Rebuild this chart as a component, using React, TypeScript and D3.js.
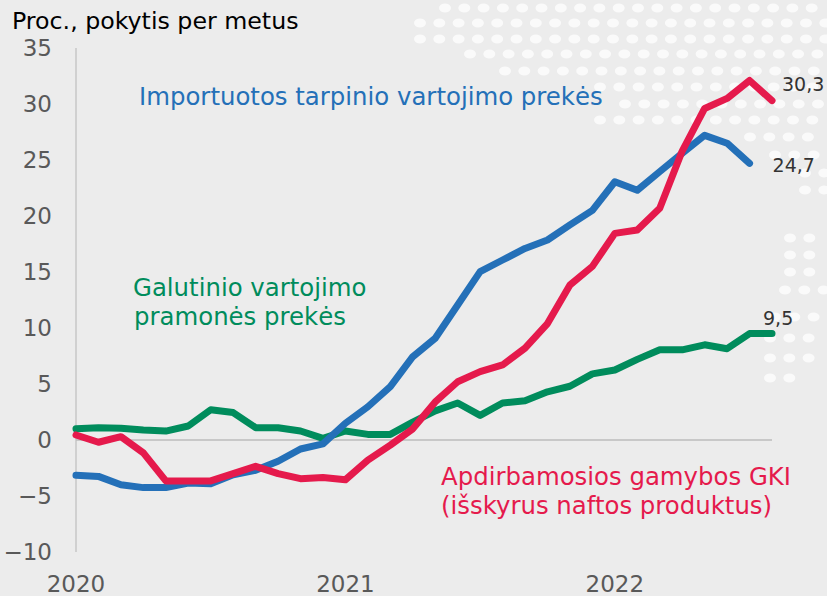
import React from "react";
import * as d3 from "d3";

const W = 827;
const H = 596;

// monthly observations, Jan 2020 .. Aug 2022
const months = d3
  .timeMonth.range(new Date(2020, 0, 1), new Date(2022, 8, 1))
  .map(d3.timeFormat("%Y-%m"));
const yearTicks = ["2020-01", "2021-01", "2022-01"];
const yTicks = [-10, -5, 0, 5, 10, 15, 20, 25, 30, 35];

// Importuotos tarpinio vartojimo prekės (ends Jul 2022)
const importGoods = [
  -3.15, -3.25, -4.0, -4.25, -4.25, -3.85, -3.9, -3.1, -2.7, -1.9, -0.8, -0.35,
  1.5, 2.97, 4.76, 7.44, 9.08, 12.05, 15.03, 16.07, 17.1, 17.86, 19.2, 20.5,
  23.06, 22.3, 23.96, 25.6, 27.2, 26.5, 24.7,
];
// Apdirbamosios gamybos GKI (išskyrus naftos produktus)
const manufacturingPpi = [
  0.45, -0.2, 0.3, -1.15, -3.65, -3.65, -3.65, -3.0, -2.35, -3.0, -3.45, -3.35,
  -3.55, -1.8, -0.45, 1.0, 3.4, 5.2, 6.1, 6.7, 8.2, 10.4, 13.84, 15.5, 18.45,
  18.75, 20.7, 25.8, 29.6, 30.5, 32.1, 30.3,
];
// Galutinio vartojimo pramonės prekės
const finalGoods = [
  1.0, 1.1, 1.05, 0.9, 0.8, 1.25, 2.7, 2.45, 1.1, 1.1, 0.8, 0.15, 0.8, 0.5,
  0.5, 1.6, 2.6, 3.3, 2.2, 3.3, 3.5, 4.3, 4.8, 5.9, 6.25, 7.2, 8.05, 8.05, 8.5,
  8.15, 9.5, 9.5,
];

// decorative dotted map, rows: [y, xStart, xEnd]
const dotRows = [
  [8, 445, 827], [23, 420, 827], [39, 420, 827], [54, 470, 827],
  [71, 505, 827], [87, 600, 827], [104, 625, 827], [120, 600, 827],
  [137, 750, 827], [155, 775, 827], [173, 805, 827], [190, 805, 827],
  [238, 790, 827], [255, 790, 827], [272, 790, 827], [290, 785, 827],
  [317, 775, 827], [338, 770, 827], [358, 770, 827], [378, 770, 800],
];

const FONT = "'DejaVu Sans', Verdana, sans-serif";
const fmt = (v: number) => d3.format(".1f")(v).replace(".", ",");

export default function App() {
  const x = d3.scalePoint<string>().domain(months).range([76, 772]);
  const y = d3.scaleLinear().domain([-10, 35]).range([552, 48]);

  const line = d3
    .line<number>()
    .x((_, i) => x(months[i]) as number)
    .y((d) => y(d));

  const series = [
    { key: "final", values: finalGoods, color: "#008c5c", dx: -9, dy: -9 },
    { key: "import", values: importGoods, color: "#2470b8", dx: 23, dy: 9 },
    { key: "ppi", values: manufacturingPpi, color: "#e51a4c", dx: 10, dy: -10 },
  ];

  const dots: [number, number][] = [];
  dotRows.forEach(([yy, x0, x1]) => {
    for (let xx = x0; xx <= x1; xx += 19.3) dots.push([xx, yy]);
  });

  return (
    <svg
      width={W}
      height={H}
      style={{ position: "absolute", left: 0, top: 0, display: "block" }}
    >
      <rect width={W} height={H} fill="#ececec" />
      <g fill="#ffffff" opacity={0.75}>
        {dots.map(([cx, cy], i) => (
          <ellipse key={i} cx={cx} cy={cy} rx={6} ry={4.6} />
        ))}
      </g>

      <text x={12} y={29} fontFamily={FONT} fontSize={23.7} fill="#000">
        Proc., pokytis per metus
      </text>

      {/* y axis */}
      <line x1={76} x2={76} y1={y(35)} y2={y(-10)} stroke="#b4b4b4" strokeWidth={1} />
      {yTicks.map((t) => (
        <text
          key={t}
          x={52}
          y={y(t)}
          dy="0.36em"
          textAnchor="end"
          fontFamily={FONT}
          fontSize={23}
          fill="#595959"
        >
          {t < 0 ? `\u2212${-t}` : t}
        </text>
      ))}
      <line x1={76} x2={x(months[months.length - 1])} y1={y(0)} y2={y(0)} stroke="#bdbdbd" strokeWidth={1.5} />

      {/* x axis labels */}
      {yearTicks.map((m) => (
        <text
          key={m}
          x={x(m)}
          y={592}
          textAnchor="middle"
          fontFamily={FONT}
          fontSize={23}
          fill="#595959"
        >
          {m.slice(0, 4)}
        </text>
      ))}

      {/* lines */}
      {series.map((s) => (
        <path
          key={s.key}
          d={line(s.values) || ""}
          fill="none"
          stroke={s.color}
          strokeWidth={7}
          strokeLinejoin="round"
          strokeLinecap="round"
        />
      ))}

      {/* end values */}
      {series.map((s) => {
        const i = s.values.length - 1;
        return (
          <text
            key={s.key + "-v"}
            x={(x(months[i]) as number) + s.dx}
            y={y(s.values[i]) + s.dy}
            fontFamily={FONT}
            fontSize={19}
            fill="#333"
          >
            {fmt(s.values[i])}
          </text>
        );
      })}

      {/* series names */}
      <text x={139} y={105} fontFamily={FONT} fontSize={24.4} fill="#2470b8">
        Importuotos tarpinio vartojimo prekės
      </text>
      <text fontFamily={FONT} fontSize={24.4} fill="#008c5c">
        <tspan x={133} y={296}>Galutinio vartojimo</tspan>
        <tspan x={134} y={325}>pramonės prekės</tspan>
      </text>
      <text fontFamily={FONT} fontSize={24.4} fill="#e51a4c">
        <tspan x={441} y={485}>Apdirbamosios gamybos GKI</tspan>
        <tspan x={441} y={514}>(išskyrus naftos produktus)</tspan>
      </text>
    </svg>
  );
}
